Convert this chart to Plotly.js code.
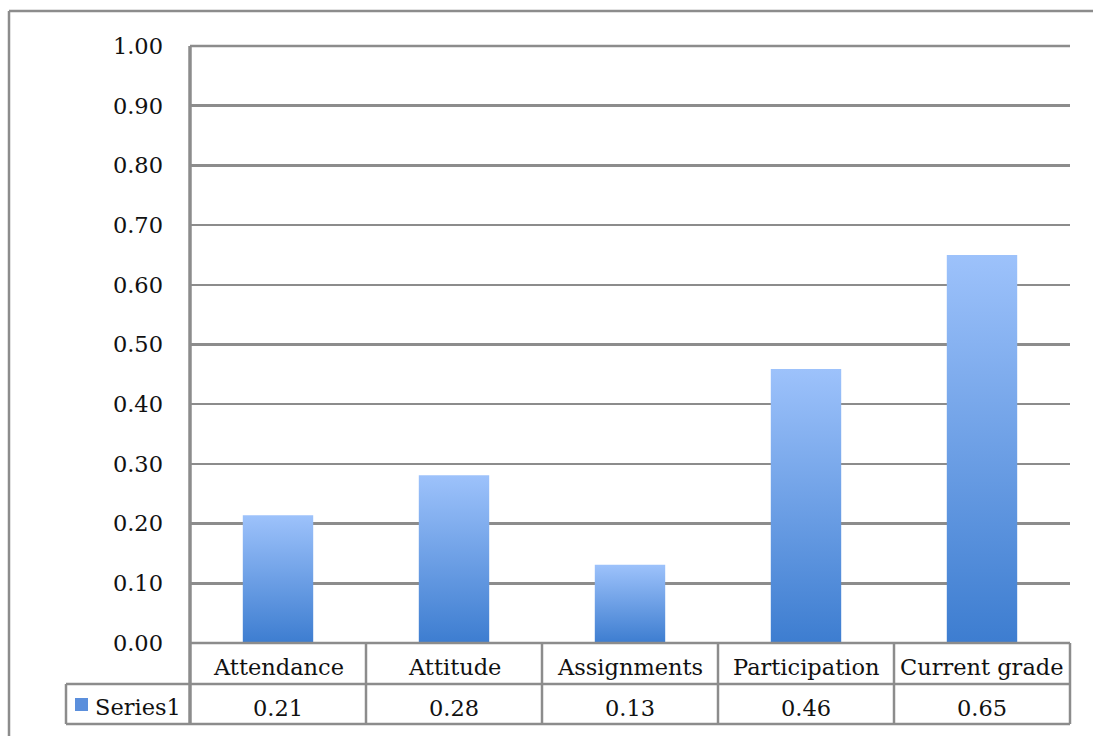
<!DOCTYPE html>
<html>
<head>
<meta charset="utf-8">
<script src="https://cdn.plot.ly/plotly-3.0.1.min.js"></script>
<style>
  html, body { margin: 0; padding: 0; background: #fff; }
  #chart { width: 1093px; height: 736px; }
</style>
</head>
<body>
<div id="chart"></div>
<script>
// ---- data ----
const categories = ["Attendance", "Attitude", "Assignments", "Participation", "Current grade"];
const values = [0.214, 0.281, 0.131, 0.459, 0.65];
const tableLabels = ["0.21", "0.28", "0.13", "0.46", "0.65"];
const seriesName = "Series1";
const yTickVals = [0, 0.1, 0.2, 0.3, 0.4, 0.5, 0.6, 0.7, 0.8, 0.9, 1.0];
const yTickText = ["0.00", "0.10", "0.20", "0.30", "0.40", "0.50", "0.60", "0.70", "0.80", "0.90", "1.00"];

// ---- geometry (pixels) ----
const W = 1093, H = 736;
const L = 190, R = 1070, T = 46, B = 643;
const pw = R - L, ph = B - T;
const px = X => (X - L) / pw;       // pixel x -> paper x
const py = Y => (B - Y) / ph;       // pixel y -> paper y

const FONT = "DejaVu Serif, Liberation Serif, serif";
const GRID = "#8c8c8c";
const FS = 22.5;

const row1Bottom = py(684);
const row2Bottom = py(724);
const n = categories.length;

const line = (x0, y0, x1, y1, w) => ({type: "line", xref: "paper", yref: "paper",
  x0, y0, x1, y1, line: {color: GRID, width: w || 2.5}});

const shapes = [];
// outer frame (top and left edges visible)
shapes.push(line(px(9), py(11), px(1200), py(11)));
shapes.push(line(px(9), py(11), px(9), py(900)));
// top gridline (1.00) and baseline (0.00)
shapes.push(line(0, 1, 1, 1));
shapes.push(line(0, 0, 1, 0));
// table horizontal lines
[row1Bottom, row2Bottom].forEach(y => shapes.push(line(px(66), y, 1, y)));
// vertical lines between categories (first one is the value axis line)
for (let i = 0; i <= n; i++) {
  shapes.push(line(i / n, i === 0 ? 1 : 0, i / n, row2Bottom, i === 0 ? 3.5 : 2.5));
}
// left edge of the series label cell
shapes.push(line(px(66), row1Bottom, px(66), row2Bottom));
// legend key square
shapes.push({type: "rect", xref: "paper", yref: "paper",
  x0: px(75), x1: px(88), y0: py(698), y1: py(711),
  line: {width: 0}, fillcolor: "#5b8fdc"});

const annotations = [];
categories.forEach((c, i) => {
  annotations.push({xref: "x", yref: "paper", x: i, y: (0 + row1Bottom) / 2, yshift: -3,
    text: c, showarrow: false, xanchor: "center", yanchor: "middle",
    font: {family: FONT, size: FS, color: "#111"}});
  annotations.push({xref: "x", yref: "paper", x: i, y: (row1Bottom + row2Bottom) / 2, yshift: -4,
    text: tableLabels[i], showarrow: false, xanchor: "center", yanchor: "middle",
    font: {family: FONT, size: FS, color: "#111"}});
});
annotations.push({xref: "paper", yref: "paper", x: px(93), y: (row1Bottom + row2Bottom) / 2, yshift: -3,
  text: seriesName, showarrow: false, xanchor: "left", yanchor: "middle",
  font: {family: FONT, size: FS, color: "#111"}});

const trace = {
  type: "bar", x: categories, y: values, name: seriesName,
  marker: {color: "#6a9ee6", line: {width: 0}},
  width: 0.4, hoverinfo: "x+y"
};

const layout = {
  width: W, height: H,
  margin: {l: L, r: W - R, t: T, b: H - B},
  paper_bgcolor: "#fff", plot_bgcolor: "#fff",
  showlegend: false,
  xaxis: {type: "category", showticklabels: false, showgrid: false, zeroline: false,
    showline: false, ticks: "", range: [-0.5, n - 0.5], fixedrange: true},
  yaxis: {range: [0, 1], tickvals: yTickVals, ticktext: yTickText,
    showgrid: true, gridcolor: GRID, gridwidth: 2.5, zeroline: false,
    showline: false, ticks: "", ticklabelstandoff: 26,
    tickfont: {family: FONT, size: FS, color: "#111"}, fixedrange: true},
  shapes: shapes, annotations: annotations
};

Plotly.newPlot("chart", [trace], layout, {displayModeBar: false, staticPlot: true}).then(gd => {
  const svg = gd.querySelector("svg.main-svg");
  const ns = "http://www.w3.org/2000/svg";
  let defs = svg.querySelector("defs");
  if (!defs) { defs = document.createElementNS(ns, "defs"); svg.insertBefore(defs, svg.firstChild); }
  const grad = document.createElementNS(ns, "linearGradient");
  grad.setAttribute("id", "barGrad");
  grad.setAttribute("x1", "0"); grad.setAttribute("y1", "0");
  grad.setAttribute("x2", "0"); grad.setAttribute("y2", "1");
  [["0%", "#9dc2fb"], ["100%", "#3d7dd0"]].forEach(([o, c]) => {
    const s = document.createElementNS(ns, "stop");
    s.setAttribute("offset", o); s.setAttribute("stop-color", c);
    grad.appendChild(s);
  });
  defs.appendChild(grad);
  gd.querySelectorAll(".bars .point path").forEach(p => {
    p.style.fill = "url(#barGrad)";
  });
});
</script>
</body>
</html>
